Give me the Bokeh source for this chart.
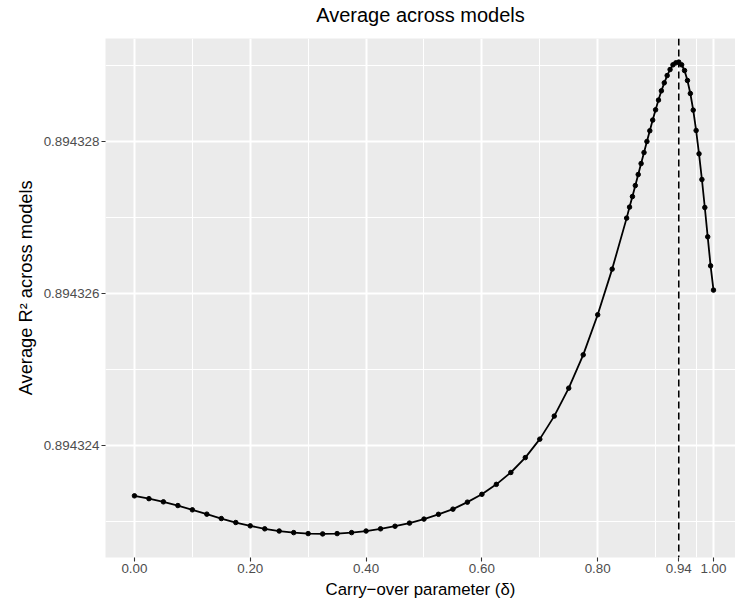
from bokeh.plotting import figure
from bokeh.models import FixedTicker, Span, Range1d, Title
from bokeh.embed import file_html
from bokeh.resources import INLINE

# ---- data ----
delta = [0.000, 0.025, 0.050, 0.075, 0.100, 0.125, 0.150, 0.175, 0.200, 0.225,
         0.250, 0.275, 0.300, 0.325, 0.350, 0.375, 0.400, 0.425, 0.450, 0.475,
         0.500, 0.525, 0.550, 0.575, 0.600, 0.625, 0.650, 0.675, 0.700, 0.725,
         0.750, 0.775, 0.800, 0.825, 0.850, 0.855, 0.860, 0.865, 0.870, 0.875,
         0.880, 0.885, 0.890, 0.895, 0.900, 0.905, 0.910, 0.915, 0.920, 0.925,
         0.930, 0.935, 0.940, 0.945, 0.950, 0.955, 0.960, 0.965, 0.970, 0.975,
         0.980, 0.985, 0.990, 0.995, 1.000]
avg_r2 = [0.894323342, 0.894323305, 0.894323263, 0.894323214, 0.894323158,
          0.894323101, 0.894323043, 0.894322991, 0.894322947, 0.894322908,
          0.894322879, 0.894322858, 0.894322845, 0.894322841, 0.894322845,
          0.894322858, 0.894322879, 0.894322908, 0.894322942, 0.894322983,
          0.894323036, 0.894323099, 0.894323167, 0.894323259, 0.894323362,
          0.894323493, 0.894323649, 0.894323845, 0.894324088, 0.894324391,
          0.894324759, 0.894325197, 0.894325724, 0.894326325, 0.894326996,
          0.894327141, 0.894327280, 0.894327425, 0.894327570, 0.894327714,
          0.894327859, 0.894328004, 0.894328145, 0.894328286, 0.894328421,
          0.894328549, 0.894328671, 0.894328776, 0.894328872, 0.894328951,
          0.894329013, 0.894329039, 0.894329049, 0.894329013, 0.894328938,
          0.894328807, 0.894328636, 0.894328417, 0.894328149, 0.894327842,
          0.894327504, 0.894327136, 0.894326750, 0.894326368, 0.894326049]
best_delta = 0.94

x_ticks = [0.0, 0.2, 0.4, 0.6, 0.8, 0.94, 1.0]
x_tick_labels = ["0.00", "0.20", "0.40", "0.60", "0.80", "0.94", "1.00"]
x_minor = [0.1, 0.3, 0.5, 0.7, 0.9, 0.97]
y_ticks = [0.894324, 0.894326, 0.894328]
y_tick_labels = ["0.894324", "0.894326", "0.894328"]
y_minor = [0.894323, 0.894325, 0.894327, 0.894329]

title_text = "Average across models"
x_label = "Carry\u2212over parameter (\u03b4)"
y_label = "Average R\u00b2 across models"

FONT = "Liberation Sans"

# ranges with ggplot-like 5% expansion
ymin, ymax = min(avg_r2), max(avg_r2)
ypad = (ymax - ymin) * 0.05
y_range = Range1d(ymin - ypad, ymax + ypad)
x_range = Range1d(-0.05, 1.038)

# canvas shifted up by 12 px so the title sits close to the top edge
p = figure(width=735, height=617, output_backend="svg", toolbar_location=None,
           x_range=x_range, y_range=y_range,
           min_border_left=105, min_border_right=0, min_border_top=37,
           min_border_bottom=48, margin=(-12, 0, 0, 0))

p.title = Title(text=title_text, align="center", text_font=FONT,
                text_font_size="20px", text_font_style="normal",
                text_color="black", standoff=26)

p.background_fill_color = "#EBEBEB"
p.border_fill_color = "white"
p.outline_line_color = None

p.xaxis.ticker = FixedTicker(ticks=x_ticks, minor_ticks=x_minor)
p.yaxis.ticker = FixedTicker(ticks=y_ticks, minor_ticks=y_minor)
p.xaxis.major_label_overrides = dict(zip(x_ticks, x_tick_labels))
p.yaxis.major_label_overrides = dict(zip(y_ticks, y_tick_labels))

for ax in (p.xaxis, p.yaxis):
    ax.axis_line_color = None
    ax.major_tick_line_color = "#333333"
    ax.major_tick_line_width = 1.1
    ax.major_tick_out = 4
    ax.major_tick_in = 0
    ax.minor_tick_line_color = None
    ax.major_label_text_font = FONT
    ax.major_label_text_font_size = "13.4px"
    ax.major_label_text_color = "#4D4D4D"
    ax.major_label_standoff = 2
    ax.axis_label_text_font = FONT
    ax.axis_label_text_font_style = "normal"
    ax.axis_label_text_color = "black"

p.xaxis.axis_label = x_label
p.xaxis.axis_label_text_font_size = "16.8px"
p.xaxis.axis_label_standoff = 4
p.yaxis.axis_label = "\u00a0\u00a0\u00a0\u00a0" + y_label
p.yaxis.axis_label_text_font_size = "18.3px"
p.yaxis.axis_label_standoff = 5

for g in (p.xgrid, p.ygrid):
    g.grid_line_color = "white"
    g.grid_line_width = 2
    g.minor_grid_line_color = "white"
    g.minor_grid_line_width = 1

p.line(delta, avg_r2, line_color="black", line_width=1.8)
p.scatter(delta, avg_r2, size=4.5, color="black")

vline = Span(location=best_delta, dimension="height", line_color="black",
             line_width=1.6, line_dash="7 4")
p.add_layout(vline)

open("out.html", "w").write(file_html(p, INLINE))
